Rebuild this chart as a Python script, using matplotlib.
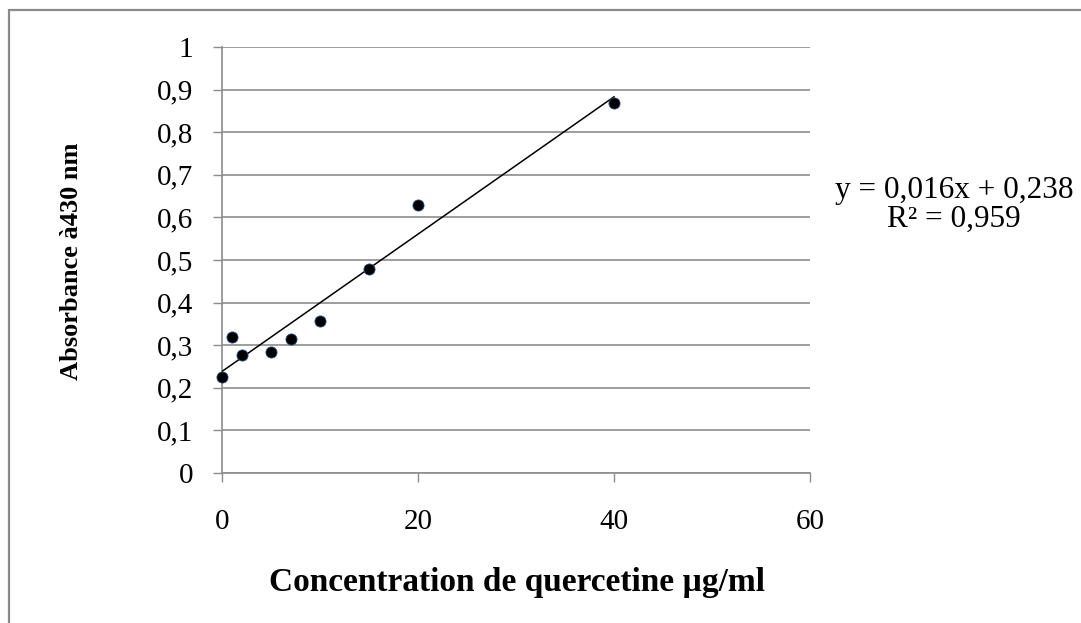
import matplotlib
matplotlib.use("Agg")
import matplotlib.pyplot as plt
import numpy as np
from matplotlib.patches import Rectangle
from matplotlib.ticker import FuncFormatter

plt.rcParams['font.family'] = ['Liberation Serif', 'DejaVu Serif']

concentration = [0, 1, 2, 5, 7, 10, 15, 20, 40]
absorbance = [0.226, 0.320, 0.278, 0.284, 0.314, 0.357, 0.480, 0.630, 0.868]
x_ticks = [0, 20, 40, 60]
y_ticks = [0, 0.1, 0.2, 0.3, 0.4, 0.5, 0.6, 0.7, 0.8, 0.9, 1.0]
equation_text = "y = 0,016x + 0,238\nR² = 0,959"
x_label = "Concentration de quercetine µg/ml"
y_label = "Absorbance à430 nm"

fig = plt.figure(figsize=(10.81, 6.23), dpi=100)
ax = fig.add_axes([222/1081, 150/623, (810-222)/1081, (473-47)/623])

grid_c = '#8c8c8c'
ax.set_xlim(0, 60)
ax.set_ylim(0, 1)
ax.set_xticks(x_ticks)
ax.set_yticks(y_ticks)
ax.yaxis.grid(True, color=grid_c, linewidth=1.2)
ax.set_axisbelow(True)
for s in ['top', 'right']:
    ax.spines[s].set_visible(False)
for s in ['left', 'bottom']:
    ax.spines[s].set_color(grid_c)
    ax.spines[s].set_linewidth(1.2)

def fmt(v, pos):
    s = ('%g' % round(v, 2)).replace('.', ',')
    return s
ax.yaxis.set_major_formatter(FuncFormatter(fmt))
ax.xaxis.set_major_formatter(FuncFormatter(fmt))
ax.tick_params(axis='both', direction='out', length=6.5, width=1.0, color=grid_c,
               labelsize=21, labelcolor='black')
ax.tick_params(axis='y', pad=14)
ax.tick_params(axis='x', pad=19.5)

# trend line
coef = np.polyfit(concentration, absorbance, 1)
xs = np.array([0, max(concentration)])
ax.plot(xs, np.polyval(coef, xs), color='black', linewidth=1.1, zorder=3)

ax.plot(concentration, absorbance, linestyle='none', marker='o', markersize=8,
        markerfacecolor='black', markeredgecolor='#2a4a7a', markeredgewidth=0.6,
        zorder=4, clip_on=False)

fig.text(517/1081, 1 - 583/623, x_label, ha='center', va='center',
         fontsize=24, fontweight='bold')
fig.text(72/1081, 1 - 261/623, y_label, ha='center', va='center',
         fontsize=19, fontweight='bold', rotation=90)
fig.text(954/1081, 1 - 205/623, equation_text, ha='center', va='center',
         fontsize=22.5, linespacing=0.98)

fig.patches.append(Rectangle((9/1081, -0.1), 1.2, 1 - 10/623 + 0.1,
                             transform=fig.transFigure, fill=False,
                             edgecolor='#8a8a8a', linewidth=1.6))

fig.savefig('out.png', dpi=100)
